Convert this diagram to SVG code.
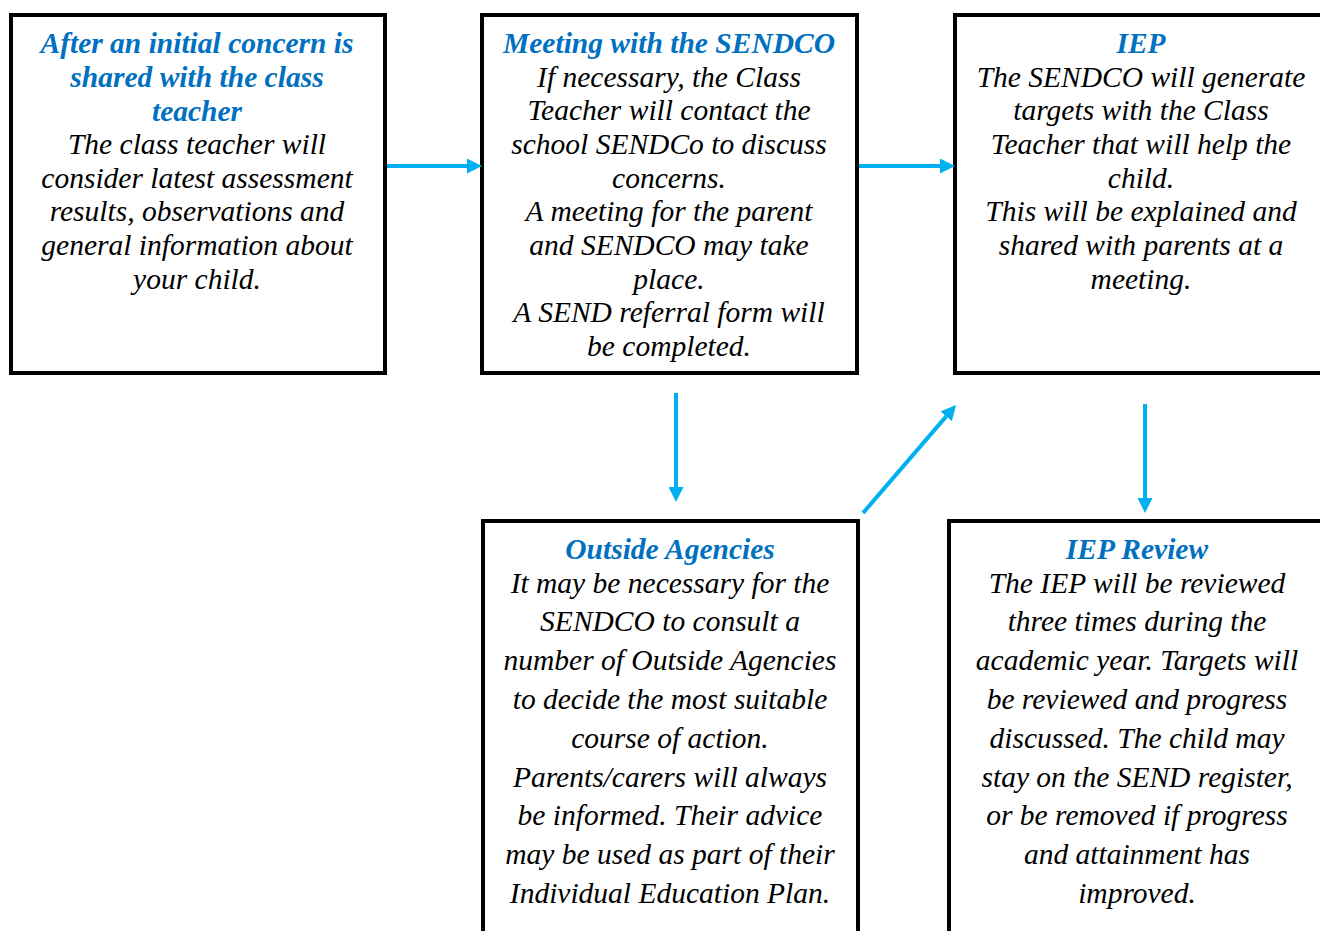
<svg xmlns="http://www.w3.org/2000/svg" width="1320" height="931" viewBox="0 0 1320 931">
<style>
.box{fill:#fff;stroke:#000;stroke-width:4}
.tx{font-family:'Liberation Serif','Times New Roman',serif;font-size:29.5px;font-style:italic;text-anchor:middle;fill:#000}
.t{font-weight:bold;fill:#0070C0}
.c{stroke:#00B0F0;stroke-width:4;fill:none}
</style>
<defs>
<marker id="ah" markerWidth="15" markerHeight="15" viewBox="0 0 15 15" refX="0" refY="7.5" orient="auto" markerUnits="userSpaceOnUse">
<path d="M0,0 L15,7.5 L0,15 Z" fill="#00B0F0"/>
</marker>
</defs>
<rect width="1320" height="931" fill="#fff"/>
<g id="n1">
<rect class="box" x="11" y="15" width="374" height="358"/>
<text class="tx" x="197" y="53"><tspan class="t">After an initial concern is</tspan><tspan class="t" x="197" y="87">shared with the class</tspan><tspan class="t" x="197" y="121">teacher</tspan><tspan x="197" y="154">The class teacher will</tspan><tspan x="197" y="188">consider latest assessment</tspan><tspan x="197" y="221">results, observations and</tspan><tspan x="197" y="255">general information about</tspan><tspan x="197" y="289">your child.</tspan></text>
</g>
<g id="n2">
<rect class="box" x="482" y="15" width="375" height="358"/>
<text class="tx" x="669" y="53"><tspan class="t">Meeting with the SENDCO</tspan><tspan x="669" y="87">If necessary, the Class</tspan><tspan x="669" y="120">Teacher will contact the</tspan><tspan x="669" y="154">school SENDCo to discuss</tspan><tspan x="669" y="188">concerns.</tspan><tspan x="669" y="221">A meeting for the parent</tspan><tspan x="669" y="255">and SENDCO may take</tspan><tspan x="669" y="289">place.</tspan><tspan x="669" y="322">A SEND referral form will</tspan><tspan x="669" y="356">be completed.</tspan></text>
</g>
<g id="n3">
<rect class="box" x="955" y="15" width="380" height="358"/>
<text class="tx" x="1141" y="53"><tspan class="t">IEP</tspan><tspan x="1141" y="87">The SENDCO will generate</tspan><tspan x="1141" y="120">targets with the Class</tspan><tspan x="1141" y="154">Teacher that will help the</tspan><tspan x="1141" y="188">child.</tspan><tspan x="1141" y="221">This will be explained and</tspan><tspan x="1141" y="255">shared with parents at a</tspan><tspan x="1141" y="289">meeting.</tspan></text>
</g>
<g id="n4">
<rect class="box" x="483" y="521" width="375" height="430"/>
<text class="tx" x="670" y="559"><tspan class="t">Outside Agencies</tspan><tspan x="670" y="593">It may be necessary for the</tspan><tspan x="670" y="631">SENDCO to consult a</tspan><tspan x="670" y="670">number of Outside Agencies</tspan><tspan x="670" y="709">to decide the most suitable</tspan><tspan x="670" y="748">course of action.</tspan><tspan x="670" y="787">Parents/carers will always</tspan><tspan x="670" y="825">be informed. Their advice</tspan><tspan x="670" y="864">may be used as part of their</tspan><tspan x="670" y="903">Individual Education Plan.</tspan></text>
</g>
<g id="n5">
<rect class="box" x="949" y="521" width="390" height="430"/>
<text class="tx" x="1137" y="559"><tspan class="t">IEP Review</tspan><tspan x="1137" y="593">The IEP will be reviewed</tspan><tspan x="1137" y="631">three times during the</tspan><tspan x="1137" y="670">academic year. Targets will</tspan><tspan x="1137" y="709">be reviewed and progress</tspan><tspan x="1137" y="748">discussed. The child may</tspan><tspan x="1137" y="787">stay on the SEND register,</tspan><tspan x="1137" y="825">or be removed if progress</tspan><tspan x="1137" y="864">and attainment has</tspan><tspan x="1137" y="903">improved.</tspan></text>
</g>
<g id="connectors">
<path class="c" d="M387,166 H467" marker-end="url(#ah)"/>
<path class="c" d="M859,166 H940" marker-end="url(#ah)"/>
<path class="c" d="M676,393 V487" marker-end="url(#ah)"/>
<path class="c" d="M1145,404 V498" marker-end="url(#ah)"/>
<path class="c" d="M863,513 L946.2,416.4" marker-end="url(#ah)"/>
</g>
</svg>
